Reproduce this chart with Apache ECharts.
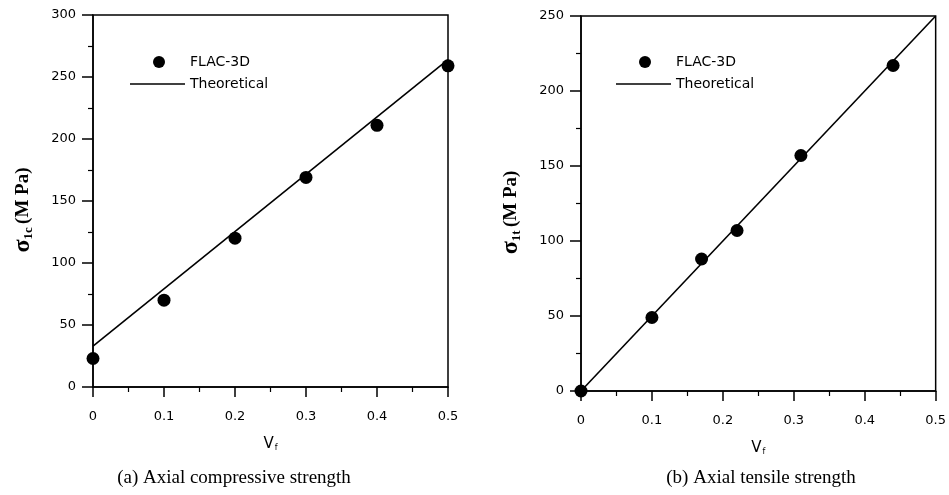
<!DOCTYPE html>
<html>
<head>
    <meta charset="UTF-8">
    <title>Axial strength vs Vf</title>
    <script src="https://cdn.jsdelivr.net/npm/echarts@6/dist/echarts.min.js"></script>
    <style>
        body { margin: 0; background: #fff; }
        #chart { width: 949px; height: 495px; }
    </style>
</head>
<body>
    <div id="chart"></div>
    <script>
        // (a) compressive
        const compFlac = [[0, 23], [0.1, 70], [0.2, 120], [0.3, 169], [0.4, 211], [0.5, 259]];
        const compTheory = [[0, 33], [0.5, 264]];
        // (b) tensile
        const tensFlac = [[0, 0], [0.1, 49], [0.17, 88], [0.22, 107], [0.31, 157], [0.44, 217]];
        const tensTheory = [[0, 0], [0.5, 250]];

        const captions = ['(a) Axial compressive strength', '(b) Axial tensile strength'];

        const chart = echarts.init(document.getElementById('chart'));
        const labelFont = 'DejaVu Sans';

        function xAxisOpt(idx) {
            return {
                gridIndex: idx,
                type: 'value',
                min: 0, max: 0.5, interval: 0.1,
                name: '{v|V}{f|f}',
                nameLocation: 'middle',
                nameGap: 50,
                nameTextStyle: {
                    rich: {
                        v: { fontFamily: labelFont, fontSize: 15, color: '#000' },
                        f: { fontFamily: labelFont, fontSize: 8, color: '#000', verticalAlign: 'bottom', padding: [0, 0, 0, 1] }
                    }
                },
                axisLine: { onZero: false, lineStyle: { color: '#000', width: 1.5 } },
                axisTick: { inside: false, length: 10, lineStyle: { color: '#000', width: 1.5 } },
                minorTick: { show: true, splitNumber: 2, length: 5, lineStyle: { color: '#000', width: 1.2 } },
                splitLine: { show: false },
                axisLabel: {
                    margin: 23, color: '#000', fontFamily: labelFont, fontSize: 13,
                    formatter: v => (v === 0 ? '0' : v.toFixed(1))
                }
            };
        }

        function yAxisOpt(idx, max, sub) {
            return {
                gridIndex: idx,
                type: 'value',
                min: 0, max: max, interval: 50,
                name: '{s|σ}{sub|' + sub + '} {m|(M Pa)}',
                nameLocation: 'middle',
                nameRotate: 90,
                nameGap: 58,
                nameTextStyle: {
                    padding: [0, 18, 0, 0],
                    rich: {
                        s: { fontFamily: 'Liberation Serif', fontSize: 24, fontWeight: 'bold', color: '#000' },
                        sub: { fontFamily: 'Liberation Serif', fontSize: 13, fontWeight: 'bold', color: '#000', verticalAlign: 'bottom', padding: [8, 0, 0, 0] },
                        m: { fontFamily: 'Liberation Serif', fontSize: 19, fontWeight: 'bold', color: '#000' }
                    }
                },
                axisLine: { onZero: false, lineStyle: { color: '#000', width: 1.5 } },
                axisTick: { inside: false, length: 11, lineStyle: { color: '#000', width: 1.5 } },
                minorTick: { show: true, splitNumber: 2, length: 5, lineStyle: { color: '#000', width: 1.2 } },
                splitLine: { show: false },
                axisLabel: { margin: 17, color: '#000', fontFamily: labelFont, fontSize: 13 }
            };
        }

        function legendOpt(left, top, name, icon, w, h, textPad) {
            return {
                orient: 'vertical',
                left: left, top: top, padding: 0,
                itemWidth: w, itemHeight: h,
                selectedMode: false,
                textStyle: { fontFamily: labelFont, fontSize: 14, color: '#000', padding: [0, 0, 0, textPad] },
                data: [{ name: name, icon: icon }]
            };
        }

        const option = {
            animation: false,
            grid: [
                { left: 93, top: 15, width: 355, height: 372, show: true, borderColor: '#000', borderWidth: 1.5, backgroundColor: 'transparent' },
                { left: 581, top: 16, width: 357, height: 375, show: true, borderColor: '#000', borderWidth: 1.5, backgroundColor: 'transparent' }
            ],
            xAxis: [xAxisOpt(0), xAxisOpt(1)],
            yAxis: [yAxisOpt(0, 300, '1c'), yAxisOpt(1, 250, '1t')],
            legend: [
                legendOpt(153, 55, 'FLAC-3D', 'circle', 12, 12, 20),
                legendOpt(130, 77, 'Theoretical', 'rect', 55, 1.6, 0),
                legendOpt(639, 55, 'FLAC-3D', 'circle', 12, 12, 20),
                legendOpt(616, 77, 'Theoretical', 'rect', 55, 1.6, 0)
            ],
            series: [
                { name: 'Theoretical', type: 'line', xAxisIndex: 0, yAxisIndex: 0, data: compTheory, symbol: 'none',
                  lineStyle: { color: '#000', width: 1.6 }, itemStyle: { color: '#000' } },
                { name: 'FLAC-3D', type: 'scatter', xAxisIndex: 0, yAxisIndex: 0, data: compFlac, symbolSize: 13,
                  itemStyle: { color: '#000', opacity: 1 } },
                { name: 'Theoretical', type: 'line', xAxisIndex: 1, yAxisIndex: 1, data: tensTheory, symbol: 'none',
                  lineStyle: { color: '#000', width: 1.6 }, itemStyle: { color: '#000' } },
                { name: 'FLAC-3D', type: 'scatter', xAxisIndex: 1, yAxisIndex: 1, data: tensFlac, symbolSize: 13,
                  itemStyle: { color: '#000', opacity: 1 } }
            ],
            graphic: [
                { type: 'text', x: 234, y: 478, style: { text: captions[0], align: 'center', verticalAlign: 'middle', font: '19px "Liberation Serif"', fill: '#000' } },
                { type: 'text', x: 761, y: 478, style: { text: captions[1], align: 'center', verticalAlign: 'middle', font: '19px "Liberation Serif"', fill: '#000' } }
            ]
        };

        chart.setOption(option);
    </script>
</body>
</html>
